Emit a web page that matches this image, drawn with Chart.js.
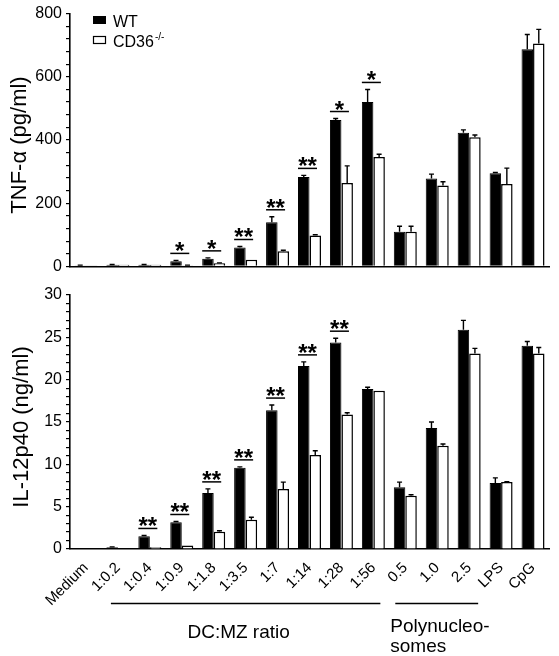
<!DOCTYPE html>
<html><head><meta charset="utf-8">
<script src="https://cdn.jsdelivr.net/npm/chart.js@4.4.1/dist/chart.umd.min.js"></script>
<style>
html,body{margin:0;padding:0;background:#fff;}
#wrap{position:relative;width:559px;height:656px;overflow:hidden;}
canvas{position:absolute;left:0;}
#c1{top:0;} #c2{top:280px;}
</style></head><body>
<div id="wrap"><canvas id="c1" width="559" height="280"></canvas><canvas id="c2" width="559" height="376"></canvas></div>
<script>
const categories = ['Medium','1:0.2','1:0.4','1:0.9','1:1.8','1:3.5','1:7','1:14','1:28','1:56','0.5','1.0','2.5','LPS','CpG'];

const tnfWT    = [3, 5, 5, 16, 24, 60, 140, 283, 463, 520, 110, 278, 423, 295, 687];
const tnfWTerr = [1, 1, 1, 3, 3, 3, 17, 5, 5, 40, 17, 14, 9, 2, 47];
const tnfKO    = [3, 5, 5, 3, 10, 21, 48, 98, 264, 346, 110, 256, 409, 261, 705];
const tnfKOerr = [0, 0, 0, 1, 1, 0, 3, 2, 54, 9, 17, 12, 7, 50, 45];
const tnfSig   = ['','','','*','*','**','**','**','*','*','','','','',''];
const tnfTickLabels = [0, 200, 400, 600, 800];

const ilWT    = [0.1, 0.2, 1.5, 3.15, 6.6, 9.6, 16.4, 21.6, 24.4, 18.9, 7.3, 14.3, 25.9, 7.8, 24.0];
const ilWTerr = [0, 0.05, 0.1, 0.1, 0.5, 0.1, 0.6, 0.5, 0.5, 0.2, 0.6, 0.7, 1.1, 0.6, 0.5];
const ilKO    = [0.05, 0.05, 0.2, 0.4, 2.05, 3.45, 7.1, 11.1, 15.9, 18.7, 6.3, 12.2, 23.1, 7.9, 23.1];
const ilKOerr = [0, 0, 0, 0, 0.1, 0.3, 0.8, 0.5, 0.2, 0, 0.1, 0.2, 0.6, 0.05, 0.7];
const ilSig   = ['','','**','**','**','**','**','**','**','','','','','',''];
const ilTickLabels = [0, 5, 10, 15, 20, 25, 30];

const FONT = "'Liberation Sans', Arial, Helvetica, sans-serif";

function makeChart(id, cfg) {
  const extra = {
    id: 'extra_' + id,
    afterDatasetsDraw(chart) {
      const ctx = chart.ctx;
      const ys = chart.scales.y, xs = chart.scales.x;
      const vals = [cfg.wt, cfg.ko], errs = [cfg.wtErr, cfg.koErr];
      ctx.save();
      ctx.strokeStyle = '#000';
      ctx.lineWidth = 1.4;
      for (let d = 0; d < 2; d++) {
        const meta = chart.getDatasetMeta(d);
        meta.data.forEach((bar, i) => {
          const e = errs[d][i];
          if (!e) return;
          const yTop = ys.getPixelForValue(vals[d][i] + e);
          ctx.beginPath();
          ctx.moveTo(bar.x, bar.y);
          ctx.lineTo(bar.x, yTop);
          ctx.moveTo(bar.x - 2.5, yTop);
          ctx.lineTo(bar.x + 2.5, yTop);
          ctx.stroke();
        });
      }
      // significance marks
      ctx.fillStyle = '#000';
      ctx.font = 'bold 24px ' + FONT;
      ctx.textAlign = 'center';
      ctx.textBaseline = 'alphabetic';
      cfg.sig.forEach((s, i) => {
        if (!s) return;
        const top = Math.min(ys.getPixelForValue(cfg.wt[i] + cfg.wtErr[i]), ys.getPixelForValue(cfg.ko[i] + cfg.koErr[i]));
        const ly = top - 7;
        const cx = xs.getPixelForValue(i) - 2;
        ctx.lineWidth = 1.5;
        ctx.beginPath();
        ctx.moveTo(cx - 9.5, ly);
        ctx.lineTo(cx + 9.5, ly);
        ctx.stroke();
        ctx.fillText(s, cx, ly + 6);
      });
      // y title
      ctx.save();
      ctx.font = '22px ' + FONT;
      ctx.textAlign = 'center';
      ctx.textBaseline = 'middle';
      ctx.translate(cfg.titleX, (chart.chartArea.top + chart.chartArea.bottom) / 2 + cfg.titleDy);
      ctx.rotate(-Math.PI / 2);
      ctx.fillText(cfg.title, 0, 0);
      ctx.restore();
      if (cfg.after) cfg.after(chart, ctx);
      ctx.restore();
    }
  };
  return new Chart(document.getElementById(id), {
    type: 'bar',
    data: {
      labels: categories,
      datasets: [
        { label: 'WT', data: cfg.wt, backgroundColor: '#000', borderColor: '#000', borderWidth: 1, categoryPercentage: 0.72, barPercentage: 1 },
        { label: 'CD36-/-', data: cfg.ko, backgroundColor: '#fff', borderColor: '#000', borderWidth: 1.5, categoryPercentage: 0.72, barPercentage: 1 }
      ]
    },
    options: {
      responsive: false,
      animation: false,
      devicePixelRatio: 1,
      layout: { padding: { top: cfg.padTop, right: 10, left: 0, bottom: 0 } },
      plugins: { legend: { display: false }, tooltip: { enabled: false } },
      scales: {
        x: {
          grid: { display: false, drawTicks: false },
          border: { display: true, color: '#000', width: 1.6 },
          ticks: { display: cfg.showX, autoSkip: false, maxRotation: 45, minRotation: 45, padding: 10, color: '#000', font: { family: FONT, size: 15 } },
          afterFit: s => { s.height = cfg.xHeight; }
        },
        y: {
          min: 0, max: cfg.max,
          ticks: { autoSkip: false, padding: 4, color: '#000', font: { family: FONT, size: 16 },
                   callback: v => cfg.labels.includes(v) ? String(v) : '' },
          afterBuildTicks: s => {
            const t = [];
            for (let k = 0; k * cfg.step <= cfg.max + 1e-9; k++) t.push({ value: Math.round(k * cfg.step * 1000) / 1000 });
            s.ticks = t;
          },
          grid: { drawOnChartArea: false, drawTicks: true, tickLength: 4, color: '#000', lineWidth: 1.2 },
          border: { color: '#000', width: 1.6 },
          afterFit: s => { s.width = 70; }
        }
      }
    },
    plugins: [extra]
  });
}

makeChart('c1', {
  wt: tnfWT, wtErr: tnfWTerr, ko: tnfKO, koErr: tnfKOerr, sig: tnfSig,
  max: 800, step: 40, labels: tnfTickLabels, showX: false, xHeight: 13, padTop: 13,
  title: 'TNF-\u03b1 (pg/ml)', titleX: 20, titleDy: 5,
  after(chart, ctx) {
    ctx.fillStyle = '#000';
    ctx.fillRect(93, 16, 13, 8);
    ctx.fillStyle = '#fff';
    ctx.fillRect(93.5, 36.5, 12, 7);
    ctx.strokeStyle = '#000';
    ctx.lineWidth = 1.2;
    ctx.strokeRect(93.5, 36.5, 12, 7);
    ctx.fillStyle = '#000';
    ctx.textAlign = 'left';
    ctx.textBaseline = 'alphabetic';
    ctx.font = '16px ' + FONT;
    ctx.fillText('WT', 113, 27);
    ctx.fillText('CD36', 113, 47);
    const w = ctx.measureText('CD36').width;
    ctx.font = '10px ' + FONT;
    ctx.fillText('-/-', 113 + w + 1, 40);
  }
});

makeChart('c2', {
  wt: ilWT, wtErr: ilWTerr, ko: ilKO, koErr: ilKOerr, sig: ilSig,
  max: 30, step: 1, labels: ilTickLabels, showX: true, xHeight: 107, padTop: 15,
  title: 'IL-12p40 (ng/ml)', titleX: 22, titleDy: 5,
  after(chart, ctx) {
    const xs = chart.scales.x;
    ctx.strokeStyle = '#000';
    ctx.lineWidth = 1.5;
    const y = 323.5;
    const a1 = xs.getPixelForValue(1) - 7, b1 = xs.getPixelForValue(9) + 7;
    const a2 = xs.getPixelForValue(10) - 10, b2 = xs.getPixelForValue(12) + 9;
    ctx.beginPath();
    ctx.moveTo(a1, y); ctx.lineTo(b1, y);
    ctx.moveTo(a2, y); ctx.lineTo(b2, y);
    ctx.stroke();
    ctx.fillStyle = '#000';
    ctx.font = '19px ' + FONT;
    ctx.textBaseline = 'alphabetic';
    ctx.textAlign = 'center';
    ctx.fillText('DC:MZ ratio', (a1 + b1) / 2 - 7, 358);
    ctx.textAlign = 'left';
    ctx.fillText('Polynucleo-', a2 - 5, 352);
    ctx.fillText('somes', a2 - 5, 372);
  }
});
</script>
</body></html>
